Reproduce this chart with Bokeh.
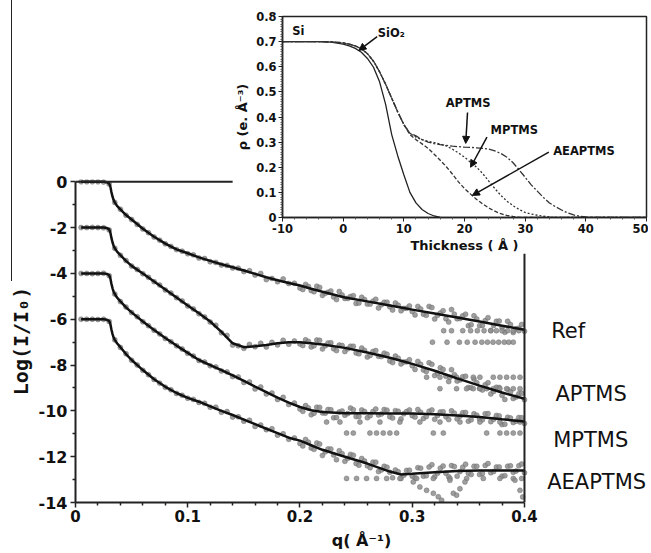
from bokeh.plotting import figure
from bokeh.layouts import column
from bokeh.models import Range1d, FixedTicker, Label, Arrow, NormalHead, Div
from bokeh.embed import file_html
from bokeh.resources import INLINE

# ---------------- main plot data (log10 reflectivity, offset) ----------------
q_meas = [0.005, 0.010, 0.015, 0.020, 0.025, 0.030, 0.035, 0.040, 0.045, 0.050,
          0.055, 0.060, 0.065, 0.070, 0.075, 0.080, 0.085, 0.090, 0.095, 0.100,
          0.105, 0.110, 0.115, 0.120, 0.125, 0.130, 0.135, 0.140, 0.145, 0.150,
          0.155, 0.160, 0.165, 0.170, 0.175, 0.180, 0.185, 0.190, 0.195, 0.200,
          0.205, 0.210, 0.215, 0.220, 0.225, 0.230, 0.235, 0.240, 0.245, 0.250,
          0.255, 0.260, 0.265, 0.270, 0.275, 0.280, 0.285, 0.290, 0.295, 0.300,
          0.305, 0.310, 0.315, 0.320, 0.325, 0.330, 0.335, 0.340, 0.345, 0.350,
          0.355, 0.360, 0.365, 0.370, 0.375, 0.380, 0.385, 0.390, 0.395, 0.400]

ref_meas = [0, 0, 0, 0, -0.01, -0.1, -0.9, -1.2, -1.46, -1.65,
            -1.86, -2.06, -2.22, -2.41, -2.55, -2.71, -2.82, -2.96, -3.03, -3.14,
            -3.19, -3.33, -3.35, -3.49, -3.52, -3.63, -3.65, -3.76, -3.77, -3.92,
            -3.88, -4.07, -4.0, -4.27, -4.22, -4.36, -4.24, -4.44, -4.43, -4.64,
            -4.48, -4.75, -4.56, -4.96, -4.82, -5.03, -4.79, -5.09, -5.01, -5.31,
            -5.04, -5.34, -5.21, -5.51, -5.26, -5.46, -5.29, -5.63, -5.52, -5.66,
            -5.44, -5.78, -5.44, -5.99, -5.73, -5.98, -5.58, -5.98, -5.85, -6.28,
            -5.85, -6.28, -6.06, -6.49, -6.09, -6.37, -6.09, -6.58, -6.39, -6.52]

aptms_meas = [-2, -2, -1.99, -2, -2.01, -2.1, -2.9, -3.21, -3.44, -3.68,
              -3.83, -4.01, -4.17, -4.36, -4.51, -4.72, -4.86, -5.06, -5.2, -5.42,
              -5.55, -5.76, -5.9, -6.12, -6.26, -6.59, -6.71, -7.13, -7.16, -7.27,
              -7.1, -7.2, -7.05, -7.21, -7.01, -7.12, -6.92, -7.09, -6.95, -7.08,
              -6.9, -7.21, -6.91, -7.3, -7.04, -7.29, -7.13, -7.41, -7.18, -7.47,
              -7.26, -7.65, -7.41, -7.62, -7.48, -7.82, -7.61, -7.95, -7.86, -8.03,
              -7.84, -8.22, -7.9, -8.46, -8.12, -8.49, -8.2, -8.7, -8.51, -8.98,
              -8.61, -9.02, -8.86, -9.26, -8.97, -9.32, -9.06, -9.46, -9.25, -9.51]

mptms_meas = [-4, -4, -4.01, -4, -3.99, -4.1, -4.9, -5.23, -5.47, -5.71,
              -5.89, -6.11, -6.28, -6.48, -6.64, -6.84, -6.98, -7.16, -7.3, -7.49,
              -7.61, -7.8, -7.87, -8.03, -8.08, -8.26, -8.3, -8.5, -8.52, -8.76,
              -8.74, -9.04, -8.96, -9.26, -9.22, -9.5, -9.41, -9.72, -9.66, -9.92,
              -9.77, -10.17, -9.84, -10.09, -9.94, -10.3, -10.05, -10.19, -9.88, -10.25,
              -9.96, -10.3, -10.03, -10.18, -9.94, -10.26, -9.99, -10.35, -10.03, -10.21,
              -9.94, -10.33, -10.02, -10.37, -10.05, -10.26, -10.0, -10.35, -10.08, -10.45,
              -10.13, -10.36, -10.13, -10.47, -10.2, -10.6, -10.28, -10.51, -10.29, -10.55]

aeaptms_meas = [-6, -6, -6, -6.01, -6, -6.1, -6.9, -7.23, -7.51, -7.79,
                -8.0, -8.23, -8.42, -8.63, -8.79, -8.97, -9.08, -9.24, -9.32, -9.45,
                -9.5, -9.63, -9.67, -9.84, -9.84, -10.06, -10.03, -10.27, -10.26, -10.45,
                -10.41, -10.68, -10.62, -10.82, -10.78, -11.06, -11.0, -11.24, -11.18, -11.42,
                -11.25, -11.62, -11.4, -11.95, -11.66, -11.93, -11.74, -12.2, -11.9, -12.3,
                -12.08, -12.4, -12.24, -12.65, -12.42, -12.68, -12.58, -12.95, -12.6, -12.85,
                -12.48, -12.85, -12.45, -12.88, -12.5, -12.72, -12.39, -12.85, -12.46, -12.72,
                -12.42, -12.78, -12.38, -12.7, -12.45, -12.85, -12.42, -12.68, -12.4, -12.7]

q_hi = [0.2025, 0.2075, 0.2125, 0.2175, 0.2225, 0.2275, 0.2325, 0.2375, 0.2425, 0.2475,
        0.2525, 0.2575, 0.2625, 0.2675, 0.2725, 0.2775, 0.2825, 0.2875, 0.2925, 0.2975,
        0.3025, 0.3075, 0.3125, 0.3175, 0.3225, 0.3275, 0.3325, 0.3375, 0.3425, 0.3475,
        0.3525, 0.3575, 0.3625, 0.3675, 0.3725, 0.3775, 0.3825, 0.3875, 0.3925, 0.3975]

ref_hi = [-4.70, -4.57, -4.80, -4.61, -4.87, -4.77, -5.14, -4.94, -5.09, -4.97,
          -5.29, -5.14, -5.34, -5.13, -5.37, -5.26, -5.60, -5.39, -5.53, -5.42,
          -5.81, -5.55, -5.83, -5.49, -5.83, -5.63, -6.12, -5.78, -5.97, -5.78,
          -6.24, -5.99, -6.27, -5.93, -6.27, -6.08, -6.57, -6.23, -6.42, -6.23]
aptms_hi = [-7.15, -6.97, -7.16, -6.92, -7.16, -7.03, -7.37, -7.15, -7.29, -7.18,
            -7.51, -7.36, -7.58, -7.37, -7.63, -7.53, -7.89, -7.70, -7.87, -7.77,
            -8.19, -7.97, -8.28, -7.97, -8.35, -8.19, -8.72, -8.42, -8.65, -8.49,
            -8.99, -8.77, -9.09, -8.77, -9.15, -8.98, -9.50, -9.18, -9.40, -9.23]
mptms_hi = [-10.02, -9.87, -10.10, -9.85, -10.10, -9.95, -10.29, -10.01, -10.12, -9.95,
            -10.25, -10.03, -10.21, -9.92, -10.14, -9.97, -10.31, -10.02, -10.13, -9.96,
            -10.27, -10.06, -10.25, -9.96, -10.20, -10.04, -10.38, -10.10, -10.23, -10.07,
            -10.39, -10.19, -10.39, -10.12, -10.37, -10.22, -10.58, -10.31, -10.45, -10.30]
aeaptms_hi = [-11.53, -11.37, -11.68, -11.45, -11.79, -11.67, -12.13, -11.87, -12.07, -11.94,
              -12.37, -12.19, -12.48, -12.24, -12.58, -12.46, -12.92, -12.66, -12.81, -12.59,
              -12.92, -12.50, -12.83, -12.35, -12.72, -12.41, -12.88, -12.43, -12.65, -12.33,
              -12.78, -12.42, -12.73, -12.30, -12.65, -12.45, -12.83, -12.40, -12.63, -12.32]

# points sitting at the detection floor (rows of dots at high q)
ref_floor_q = [0.328, 0.335, 0.345, 0.352, 0.358, 0.364, 0.370, 0.375, 0.380, 0.385, 0.390, 0.395,
               0.318, 0.331, 0.342, 0.349, 0.356, 0.362, 0.367, 0.372, 0.377, 0.382, 0.386, 0.390]
ref_floor_y = [-6.5, -6.5, -6.5, -6.5, -6.5, -6.5, -6.5, -6.5, -6.5, -6.5, -6.5, -6.5,
               -7.0, -7.0, -7.0, -7.0, -7.0, -7.0, -7.0, -7.0, -7.0, -7.0, -7.0, -7.0]
aptms_floor_q = [0.3128, 0.3247, 0.3336, 0.3395, 0.3544, 0.3603, 0.3722, 0.3781, 0.3841, 0.3900, 0.3960,
                 0.3247, 0.3395, 0.3484, 0.3544, 0.3603, 0.3663, 0.3722, 0.3781, 0.3841, 0.3900, 0.3960]
aptms_floor_y = [-8.53, -8.53, -8.53, -8.53, -8.53, -8.53, -8.53, -8.53, -8.53, -8.53, -8.53,
                 -9.03, -9.03, -9.03, -9.03, -9.03, -9.03, -9.03, -9.03, -9.03, -9.03, -9.03]
mptms_floor_q = [0.2237, 0.2356, 0.2534, 0.2712, 0.2890, 0.3068, 0.3247, 0.3425, 0.3603, 0.3781, 0.3960,
                 0.2415, 0.2475, 0.2623, 0.2682, 0.2742, 0.2801, 0.2861, 0.3188, 0.3277, 0.3663,
                 0.3781, 0.3841, 0.3900, 0.3960]
mptms_floor_y = [-10.49, -10.49, -10.49, -10.49, -10.49, -10.49, -10.49, -10.49, -10.49, -10.49, -10.49,
                 -10.97, -10.97, -10.97, -10.97, -10.97, -10.97, -10.97, -10.97, -10.97, -10.97,
                 -10.97, -10.97, -10.97, -10.97]
aeaptms_floor_q = [0.2415, 0.2504, 0.2593, 0.2682, 0.2772, 0.2890, 0.3039, 0.3188, 0.3336, 0.3485,
                   0.3633, 0.3781, 0.3900, 0.3975, 0.3009, 0.3068, 0.3128, 0.3188, 0.3232, 0.3262,
                   0.3336, 0.3366, 0.3395, 0.3425, 0.3470, 0.3915, 0.3960, 0.3984]
aeaptms_floor_y = [-12.95, -12.95, -12.95, -12.95, -12.95, -12.95, -12.95, -12.95, -12.95, -12.95,
                   -12.95, -12.95, -12.95, -12.95, -13.1, -13.32, -13.47, -13.6, -13.75, -13.9,
                   -13.03, -13.6, -13.68, -13.4, -13.1, -13.03, -13.47, -13.76]

# fitted curves
q_fit = [0.005, 0.010, 0.015, 0.020, 0.025, 0.028, 0.030, 0.031, 0.032, 0.033, 0.034, 0.035, 0.037,
         0.040, 0.045, 0.050, 0.060, 0.070, 0.080, 0.090, 0.100, 0.110, 0.120, 0.130, 0.140, 0.150,
         0.160, 0.170, 0.180, 0.190, 0.200, 0.210, 0.220, 0.240, 0.260, 0.280, 0.290, 0.300, 0.320,
         0.340, 0.360, 0.380, 0.400]
ref_fit = [0, 0, 0, 0, 0, -0.02, -0.08, -0.2, -0.45, -0.65, -0.8, -0.9, -1.05,
           -1.2, -1.45, -1.65, -2.05, -2.4, -2.7, -2.95, -3.12, -3.3, -3.45, -3.6, -3.73, -3.87,
           -4.02, -4.17, -4.3, -4.42, -4.53, -4.67, -4.8, -5.05, -5.22, -5.4, -5.49, -5.58, -5.75,
           -5.92, -6.1, -6.28, -6.46]
aptms_fit = [-2, -2, -2, -2, -2, -2.02, -2.08, -2.2, -2.45, -2.65, -2.8, -2.9, -3.05,
             -3.2, -3.45, -3.67, -4.0, -4.35, -4.7, -5.05, -5.4, -5.74, -6.1, -6.55, -7.05, -7.22,
             -7.18, -7.12, -7.05, -7.0, -7.0, -7.05, -7.1, -7.25, -7.45, -7.68, -7.81, -7.95, -8.25,
             -8.58, -8.9, -9.2, -9.47]
mptms_fit = [-4, -4, -4, -4, -4, -4.02, -4.08, -4.2, -4.45, -4.65, -4.8, -4.9, -5.05,
             -5.22, -5.48, -5.7, -6.1, -6.47, -6.82, -7.15, -7.47, -7.78, -8.0, -8.22, -8.45, -8.69,
             -8.94, -9.18, -9.42, -9.64, -9.83, -9.97, -10.05, -10.1, -10.1, -10.11, -10.11, -10.12, -10.15,
             -10.2, -10.27, -10.37, -10.46]
aeaptms_fit = [-6, -6, -6, -6, -6, -6.02, -6.08, -6.2, -6.45, -6.65, -6.8, -6.9, -7.05,
               -7.22, -7.52, -7.78, -8.22, -8.62, -8.95, -9.22, -9.43, -9.6, -9.8, -10.0, -10.18, -10.38,
               -10.58, -10.78, -10.97, -11.17, -11.3, -11.5, -11.7, -12.0, -12.3, -12.65, -12.78, -12.75, -12.68,
               -12.62, -12.6, -12.6, -12.6]

sample_names = ["Ref", "APTMS", "MPTMS", "AEAPTMS"]
sample_label_y = [-6.53, -9.26, -11.26, -13.11]

x_major = [0, 0.1, 0.2, 0.3, 0.4]
x_minor = [0.02, 0.04, 0.06, 0.08, 0.12, 0.14, 0.16, 0.18, 0.22, 0.24, 0.26, 0.28,
           0.32, 0.34, 0.36, 0.38]
y_major = [-14, -12, -10, -8, -6, -4, -2, 0]
y_tick_labels = ["-14", "-12", "-10", "-8", "-6", "-4", "-2", "0"]
y_minor = [-13, -11, -9, -7, -5, -3, -1]

# ---------------- inset data (electron density profiles) ----------------
t_ref = [-10, -8, -6, -4, -2, 0, 1, 2, 3, 4, 5, 6, 7, 8, 9, 10, 11, 12, 13, 14, 15, 16]
rho_ref = [0.7, 0.7, 0.7, 0.7, 0.698, 0.69, 0.683, 0.673, 0.658, 0.633, 0.598, 0.54, 0.45,
           0.33, 0.245, 0.17, 0.1, 0.058, 0.032, 0.016, 0.006, 0.0]
t_film = [-10, -8, -6, -4, -2, 0, 1, 2, 3, 4, 5, 6, 7, 8, 9, 10,
          11, 12, 13, 14, 15, 16, 17, 18, 19, 20, 21, 22, 23, 24, 25, 26, 27, 28, 29, 30,
          31, 32, 33, 34, 35, 36, 37, 38, 39, 40, 41, 42, 43, 44, 45, 46, 47, 48, 49, 50]
rho_aptms = [0.7, 0.7, 0.7, 0.7, 0.699, 0.695, 0.69, 0.683, 0.672, 0.652, 0.622, 0.58, 0.53, 0.475, 0.42, 0.37,
             0.335, 0.325, 0.31, 0.3, 0.294, 0.29, 0.287, 0.284, 0.282, 0.28,
             0.279, 0.277, 0.275, 0.272, 0.265, 0.255, 0.24, 0.218, 0.19, 0.16,
             0.13, 0.105, 0.08, 0.058, 0.043, 0.03, 0.018, 0.01, 0.005, 0.002,
             0, 0, 0, 0, 0, 0, 0, 0, 0, 0]
rho_mptms = [0.7, 0.7, 0.7, 0.7, 0.699, 0.695, 0.69, 0.683, 0.672, 0.652, 0.622, 0.58, 0.53, 0.475, 0.42, 0.37,
             0.335, 0.32, 0.31, 0.303, 0.298, 0.292, 0.285, 0.272, 0.257, 0.24,
             0.22, 0.2, 0.175, 0.145, 0.115, 0.088, 0.065, 0.047, 0.032, 0.02,
             0.014, 0.009, 0.005, 0.002, 0, 0, 0, 0, 0, 0,
             0, 0, 0, 0, 0, 0, 0, 0, 0, 0]
rho_aeaptms = [0.7, 0.7, 0.7, 0.7, 0.699, 0.695, 0.69, 0.683, 0.672, 0.652, 0.622, 0.58, 0.53, 0.475, 0.42, 0.37,
               0.33, 0.31, 0.293, 0.275, 0.252, 0.228, 0.202, 0.173, 0.142, 0.115,
               0.093, 0.072, 0.054, 0.038, 0.025, 0.015, 0.008, 0.004, 0.001, 0,
               0, 0, 0, 0, 0, 0, 0, 0, 0, 0,
               0, 0, 0, 0, 0, 0, 0, 0, 0, 0]
t_major = [-10, 0, 10, 20, 30, 40, 50]
t_tick_labels = ["-10", "0", "10", "20", "30", "40", "50"]
t_minor = [-8, -6, -4, -2, 2, 4, 6, 8, 12, 14, 16, 18, 22, 24, 26, 28, 32, 34, 36, 38, 42, 44, 46, 48]
rho_major = [0, 0.1, 0.2, 0.3, 0.4, 0.5, 0.6, 0.7, 0.8]
rho_minor = [0.01, 0.02, 0.03, 0.04, 0.05, 0.06, 0.07, 0.08, 0.09,
             0.11, 0.12, 0.13, 0.14, 0.15, 0.16, 0.17, 0.18, 0.19,
             0.21, 0.22, 0.23, 0.24, 0.25, 0.26, 0.27, 0.28, 0.29,
             0.31, 0.32, 0.33, 0.34, 0.35, 0.36, 0.37, 0.38, 0.39,
             0.41, 0.42, 0.43, 0.44, 0.45, 0.46, 0.47, 0.48, 0.49,
             0.51, 0.52, 0.53, 0.54, 0.55, 0.56, 0.57, 0.58, 0.59,
             0.61, 0.62, 0.63, 0.64, 0.65, 0.66, 0.67, 0.68, 0.69,
             0.71, 0.72, 0.73, 0.74, 0.75, 0.76, 0.77, 0.78, 0.79]

# ======================= main figure =======================
# frame widened to the right so the sample names can sit inside it;
# the q axis itself stops at 0.4 (axis bounds) where the plot box closes.
main = figure(frame_width=572, frame_height=323,
              x_range=Range1d(0, 0.5096), y_range=Range1d(-14, 0.1),
              min_border_left=75, min_border_right=2, min_border_top=179, min_border_bottom=51,
              output_backend="svg", toolbar_location=None)
main.xgrid.grid_line_color = None
main.ygrid.grid_line_color = None
main.outline_line_color = None
main.background_fill_color = None
main.border_fill_color = None

pt = dict(size=5, fill_color="#8e8e8e", line_color="#666666", line_width=0.5, alpha=0.85)
for yy in (ref_meas, aptms_meas, mptms_meas, aeaptms_meas):
    main.scatter(q_meas, yy, **pt)
for yy in (ref_hi, aptms_hi, mptms_hi, aeaptms_hi):
    main.scatter(q_hi, yy, **pt)
for qq, yy in ((ref_floor_q, ref_floor_y), (aptms_floor_q, aptms_floor_y),
               (mptms_floor_q, mptms_floor_y), (aeaptms_floor_q, aeaptms_floor_y)):
    main.scatter(qq, yy, **pt)
for yy in (ref_fit, aptms_fit, mptms_fit, aeaptms_fit):
    main.line(q_fit, yy, line_color="#111111", line_width=2.5)

# visible parts of the plot box edges (the rest lies under the inset)
main.segment(x0=[0, 0.4], y0=[0, -14], x1=[0.14, 0.4], y1=[0, -3.14],
             line_color="#222222", line_width=2)

main.xaxis.ticker = FixedTicker(ticks=x_major, minor_ticks=x_minor)
main.yaxis.ticker = FixedTicker(ticks=y_major, minor_ticks=y_minor)
main.xaxis.bounds = (0, 0.4)
main.yaxis.bounds = (-14, 0)
main.xaxis.major_label_overrides = {0: "0"}
main.yaxis.major_label_overrides = dict(zip(y_major, y_tick_labels))
for ax in (main.xaxis[0], main.yaxis[0]):
    ax.axis_line_width = 2
    ax.axis_line_color = "#222222"
    ax.major_tick_line_color = "#222222"
    ax.minor_tick_line_color = "#222222"
    ax.major_tick_line_width = 1.5
    ax.minor_tick_line_width = 1.5
    ax.major_tick_in = 0
    ax.major_tick_out = 5
    ax.minor_tick_in = 0
    ax.minor_tick_out = 3
    ax.major_label_text_font = "DejaVu Sans"
    ax.major_label_text_font_style = "bold"
    ax.major_label_text_font_size = "15px"
    ax.major_label_text_color = "#111111"
    ax.major_label_standoff = 3
main.yaxis.major_label_text_font_size = "16px"
main.xaxis.major_label_standoff = 2
main.xaxis.axis_label = "q( Å⁻¹)"
main.xaxis.axis_label_text_font = "DejaVu Sans"
main.xaxis.axis_label_text_font_size = "16px"
main.xaxis.axis_label_text_font_style = "bold"
main.xaxis.axis_label_standoff = 6
main.yaxis.axis_label = "Log(I/I₀)"
main.yaxis.axis_label_text_font = "DejaVu Sans Mono"
main.yaxis.axis_label_text_font_size = "20px"
main.yaxis.axis_label_text_font_style = "bold"
main.yaxis.axis_label_standoff = 3
for ax in (main.xaxis[0], main.yaxis[0]):
    ax.axis_label_text_color = "#111111"

label_x = [0.4238, 0.4276, 0.4256, 0.4202]
for name, ly, lx in zip(sample_names, sample_label_y, label_x):
    main.add_layout(Label(x=lx, y=ly, text=name, text_font="DejaVu Sans",
                          text_font_size="21px", text_baseline="middle",
                          text_color="#111111"))

# ======================= inset figure =======================
# (figures in a column share their left/right border sizes, so both use 75 / 2)
inset = figure(frame_width=364, frame_height=201,
               x_range=Range1d(-10, 50), y_range=Range1d(0, 0.8),
               min_border_left=75, min_border_right=2, min_border_top=8, min_border_bottom=37,
               output_backend="svg", toolbar_location=None)
inset.xgrid.grid_line_color = None
inset.ygrid.grid_line_color = None
inset.outline_line_color = "#222222"
inset.outline_line_width = 1.5
inset.border_fill_color = None

inset.line(t_ref, rho_ref, line_color="#222222", line_width=1.3)
inset.line(t_film, rho_aptms, line_color="#333333", line_width=1.3, line_dash="7 2 2 2")
inset.line(t_film, rho_mptms, line_color="#333333", line_width=1.3, line_dash="2 2")
inset.line(t_film, rho_aeaptms, line_color="#333333", line_width=1.3, line_dash="4 2")

inset.xaxis.ticker = FixedTicker(ticks=t_major, minor_ticks=t_minor)
inset.yaxis.ticker = FixedTicker(ticks=rho_major, minor_ticks=rho_minor)
inset.yaxis.major_label_overrides = {0: "0"}
inset.xaxis.major_label_overrides = dict(zip(t_major, t_tick_labels))
for ax in (inset.xaxis[0], inset.yaxis[0]):
    ax.axis_line_width = 1.5
    ax.axis_line_color = "#222222"
    ax.major_tick_line_color = "#222222"
    ax.minor_tick_line_color = "#555555"
    ax.major_tick_in = 0
    ax.major_tick_out = 4
    ax.minor_tick_in = 0
    ax.minor_tick_out = 2
    ax.major_label_text_font = "DejaVu Sans"
    ax.major_label_text_font_style = "bold"
    ax.major_label_text_font_size = "11.5px"
    ax.major_label_text_color = "#111111"
    ax.major_label_standoff = 2
    ax.axis_label_text_font = "DejaVu Sans"
    ax.axis_label_text_font_style = "bold"
    ax.axis_label_text_color = "#111111"
inset.xaxis.axis_label = "Thickness ( Å )"
inset.xaxis.axis_label_text_font_size = "13px"
inset.xaxis.axis_label_standoff = 2
inset.yaxis.axis_label = "ρ (e. Å⁻³)"
inset.yaxis.axis_label_text_font_size = "13px"
inset.yaxis.axis_label_standoff = 3

lab = dict(text_font="DejaVu Sans", text_font_style="bold", text_font_size="11.5px",
           text_color="#111111", text_baseline="middle")
inset.add_layout(Label(x=-8.4, y=0.744, text="Si", text_align="left", **lab))
inset.add_layout(Label(x=5.7, y=0.736, text="SiO₂", text_align="left", **lab))
inset.add_layout(Label(x=20.6, y=0.454, text="APTMS", text_align="center", **lab))
inset.add_layout(Label(x=28.2, y=0.35, text="MPTMS", text_align="center", **lab))
inset.add_layout(Label(x=39.7, y=0.263, text="AEAPTMS", text_align="center", **lab))

arrows = [(5.6, 0.72, 2.6, 0.665), (20.5, 0.418, 20.2, 0.295),
          (23.7, 0.32, 21.0, 0.2), (33.9, 0.26, 21.3, 0.088)]
for xs, ys, xe, ye in arrows:
    inset.add_layout(Arrow(end=NormalHead(size=7, fill_color="#111111", line_color="#111111"),
                           x_start=xs, y_start=ys, x_end=xe, y_end=ye,
                           line_color="#111111", line_width=1.5))

# thin vertical rule at the far left of the original figure
rule = Div(text="", width=1, height=281, margin=(0, 0, 0, 11),
           styles={"background-color": "#222222"})

main.margin = (-281, 0, 0, 0)
inset.margin = (-545, 0, 0, 207)

page = column(rule, main, inset)
open("out.html", "w").write(file_html(page, INLINE))
